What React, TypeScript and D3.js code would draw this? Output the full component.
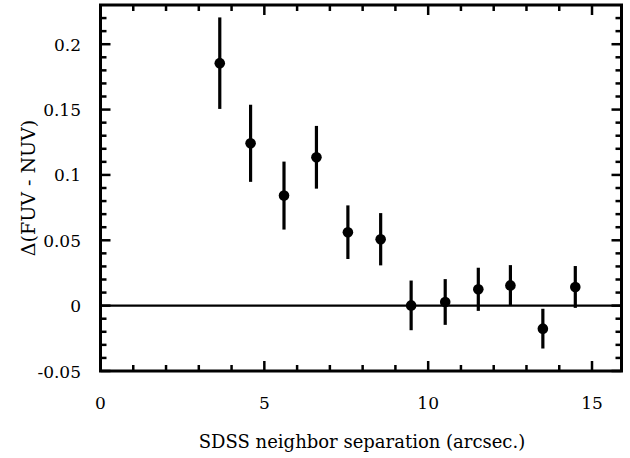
import React from "react";
import * as d3 from "d3";

const separation = [3.64, 4.58, 5.6, 6.59, 7.55, 8.55, 9.48, 10.52, 11.53, 12.51, 13.5, 14.49];
const deltaColor = [0.1855, 0.1242, 0.0842, 0.1135, 0.0562, 0.0508, 0.0002, 0.0028, 0.0125, 0.0155, -0.0176, 0.0143];
const errors = [0.035, 0.0295, 0.026, 0.024, 0.0205, 0.02, 0.019, 0.0175, 0.0165, 0.0155, 0.0152, 0.016];
const xMajorTicks = [0, 5, 10, 15];
const yMajorTicks = [-0.05, 0, 0.05, 0.1, 0.15, 0.2];

const W = 630;
const H = 458;
const left = 100.5;
const right = 621.5;
const top = 5;
const bottom = 371;

export default function App() {
  const x = d3.scaleLinear().domain([0, 15.9]).range([left, right]);
  const y = d3.scaleLinear().domain([-0.05, 0.23]).range([bottom, top]);
  const xMinor = d3.range(1, 16).filter((v) => v % 5 !== 0);
  const yMinor = d3.range(-4, 23).map((v) => v / 100).filter((v) => Math.round(v * 100) % 5 !== 0);
  const font = "DejaVu Serif";
  const fs = 17;
  const majorLen = 10;
  const minorLen = 6;
  const fmt = (v: number) => (Math.abs(v) < 1e-9 ? "0" : String(+v.toFixed(2)));

  return (
    <svg width={W} height={H} style={{ position: "absolute", left: 0, top: 0, background: "#fff" }}>
      <rect x={0} y={0} width={W} height={H} fill="#fff" />
      <line x1={left} x2={right} y1={y(0)} y2={y(0)} stroke="#000" strokeWidth={2.4} />
      {xMajorTicks.map((t) => (
        <g key={"xM" + t}>
          <line x1={x(t)} x2={x(t)} y1={bottom} y2={bottom - majorLen} stroke="#000" strokeWidth={2.5} />
          <line x1={x(t)} x2={x(t)} y1={top} y2={top + majorLen} stroke="#000" strokeWidth={2.5} />
          <text x={x(t)} y={409} textAnchor="middle" fontFamily={font} fontSize={fs} fill="#000">
            {fmt(t)}
          </text>
        </g>
      ))}
      {xMinor.map((t) => (
        <g key={"xm" + t}>
          <line x1={x(t)} x2={x(t)} y1={bottom} y2={bottom - minorLen} stroke="#000" strokeWidth={2.5} />
          <line x1={x(t)} x2={x(t)} y1={top} y2={top + minorLen} stroke="#000" strokeWidth={2.5} />
        </g>
      ))}
      {yMajorTicks.map((t) => (
        <g key={"yM" + t}>
          <line x1={left} x2={left + majorLen} y1={y(t)} y2={y(t)} stroke="#000" strokeWidth={2.5} />
          <line x1={right} x2={right - majorLen} y1={y(t)} y2={y(t)} stroke="#000" strokeWidth={2.5} />
          <text x={81} y={y(t) + 6.5} textAnchor="end" fontFamily={font} fontSize={fs} fill="#000">
            {fmt(t)}
          </text>
        </g>
      ))}
      {yMinor.map((t) => (
        <g key={"ym" + t}>
          <line x1={left} x2={left + minorLen} y1={y(t)} y2={y(t)} stroke="#000" strokeWidth={2.5} />
          <line x1={right} x2={right - minorLen} y1={y(t)} y2={y(t)} stroke="#000" strokeWidth={2.5} />
        </g>
      ))}
      <rect x={left} y={top} width={right - left} height={bottom - top} fill="none" stroke="#000" strokeWidth={3} />
      {separation.map((sx, i) => (
        <g key={"p" + i}>
          <line
            x1={x(sx)}
            x2={x(sx)}
            y1={y(deltaColor[i] + errors[i])}
            y2={y(deltaColor[i] - errors[i])}
            stroke="#000"
            strokeWidth={3.2}
          />
          <circle cx={x(sx)} cy={y(deltaColor[i])} r={5.3} fill="#000" />
        </g>
      ))}
      <text x={(left + right) / 2 + 1} y={448} textAnchor="middle" fontFamily={font} fontSize={18} fill="#000">
        SDSS neighbor separation (arcsec.)
      </text>
      <text
        transform={`translate(35, ${(top + bottom) / 2}) rotate(-90)`}
        textAnchor="middle"
        fontFamily={font}
        fontSize={19}
        fill="#000"
      >
        Δ(FUV - NUV)
      </text>
    </svg>
  );
}
